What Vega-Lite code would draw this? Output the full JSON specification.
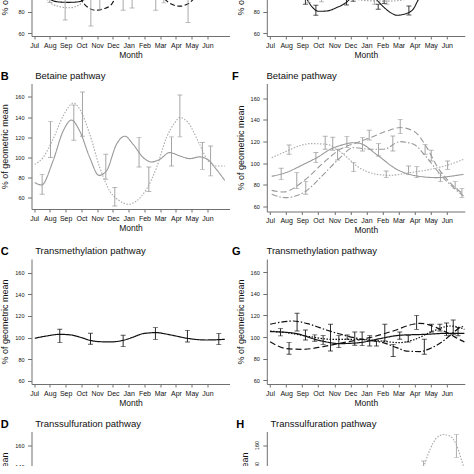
{
"$schema": "https://vega.github.io/schema/vega-lite/v6.json",
"padding": {"top": -91, "left": 0.5, "right": 0, "bottom": -114},
"config": {
 "font": "Liberation Sans",
 "view": {"stroke": null},
 "axis": {"grid": false, "domainColor": "#707070", "tickColor": "#707070", "labelColor": "#111", "titleColor": "#111", "titleFontWeight": "normal", "labelFlush": false, "labelOverlap": false},
 "axisX": {"labelFontSize": 7, "titleFontSize": 8.5, "tickSize": 3, "labelPadding": 2, "titlePadding": 2},
 "axisY": {"labelFontSize": 5.5, "titleFontSize": 9, "tickSize": 4, "labelPadding": 3.5, "titlePadding": 5, "values": [60,80,100,120,140,160]},
 "title": {"anchor": "start", "frame": "bounds", "fontSize": 11, "fontWeight": "bold", "subtitleFontSize": 9.5, "subtitleFontWeight": "normal", "subtitlePadding": -11, "offset": 2, "color": "#000", "subtitleColor": "#111"}
},
"datasets": {
 "curves": [
  {"p":"A","s":"a1","m":0.6,"v":100},{"p":"A","s":"a1","m":1.0,"v":91.5},{"p":"A","s":"a1","m":1.5,"v":89},{"p":"A","s":"a1","m":2.2,"v":88.5},{"p":"A","s":"a1","m":2.8,"v":89},{"p":"A","s":"a1","m":3.2,"v":91.5},{"p":"A","s":"a1","m":3.6,"v":100},{"p":"A","s":"a1","m":5,"v":110},{"p":"A","s":"a1","m":8,"v":106},{"p":"A","s":"a1","m":12.1,"v":102},
  {"p":"A","s":"a2","m":0.6,"v":96},{"p":"A","s":"a2","m":1.0,"v":88.5},{"p":"A","s":"a2","m":1.5,"v":85},{"p":"A","s":"a2","m":2.2,"v":83.5},{"p":"A","s":"a2","m":2.8,"v":85.5},{"p":"A","s":"a2","m":3.1,"v":89.5},{"p":"A","s":"a2","m":3.4,"v":96},{"p":"A","s":"a2","m":4.5,"v":108},{"p":"A","s":"a2","m":8,"v":104},{"p":"A","s":"a2","m":12.1,"v":100},
  {"p":"A","s":"a3","m":0,"v":110},{"p":"A","s":"a3","m":1.5,"v":108},{"p":"A","s":"a3","m":2.6,"v":100},{"p":"A","s":"a3","m":3.1,"v":88.5},{"p":"A","s":"a3","m":3.5,"v":83},{"p":"A","s":"a3","m":3.9,"v":81.2},{"p":"A","s":"a3","m":4.4,"v":82.5},{"p":"A","s":"a3","m":4.9,"v":86.5},{"p":"A","s":"a3","m":5.1,"v":91},{"p":"A","s":"a3","m":5.5,"v":100},{"p":"A","s":"a3","m":7,"v":104},{"p":"A","s":"a3","m":7.9,"v":99},{"p":"A","s":"a3","m":8.3,"v":91.3},{"p":"A","s":"a3","m":8.7,"v":87},{"p":"A","s":"a3","m":9.25,"v":85},{"p":"A","s":"a3","m":9.8,"v":87.5},{"p":"A","s":"a3","m":10.1,"v":91.3},{"p":"A","s":"a3","m":10.5,"v":100},{"p":"A","s":"a3","m":12.1,"v":105},
  {"p":"E","s":"e1","m":0,"v":110},{"p":"E","s":"e1","m":1.5,"v":105},{"p":"E","s":"e1","m":2.0,"v":97},{"p":"E","s":"e1","m":2.29,"v":91.3},{"p":"E","s":"e1","m":2.6,"v":84.5},{"p":"E","s":"e1","m":3.0,"v":80.3},{"p":"E","s":"e1","m":3.5,"v":80.5},{"p":"E","s":"e1","m":4.15,"v":83.7},{"p":"E","s":"e1","m":4.77,"v":88.8},{"p":"E","s":"e1","m":5.0,"v":92},{"p":"E","s":"e1","m":5.6,"v":100},{"p":"E","s":"e1","m":6.3,"v":96},{"p":"E","s":"e1","m":6.6,"v":91.3},{"p":"E","s":"e1","m":7.04,"v":84.6},{"p":"E","s":"e1","m":7.5,"v":79},{"p":"E","s":"e1","m":7.9,"v":76.6},{"p":"E","s":"e1","m":8.4,"v":77.8},{"p":"E","s":"e1","m":8.9,"v":82.1},{"p":"E","s":"e1","m":9.24,"v":91.3},{"p":"E","s":"e1","m":9.5,"v":97},{"p":"E","s":"e1","m":12.1,"v":110},
  {"p":"E","s":"e2","m":4.8,"v":100},{"p":"E","s":"e2","m":5.3,"v":92},{"p":"E","s":"e2","m":5.8,"v":90.3},{"p":"E","s":"e2","m":6.5,"v":89.8},{"p":"E","s":"e2","m":7.3,"v":89.6},{"p":"E","s":"e2","m":8.0,"v":90.2},{"p":"E","s":"e2","m":8.5,"v":92},{"p":"E","s":"e2","m":9.0,"v":100},
  {"p":"B","s":"b1","m":0.04,"v":74.9},{"p":"B","s":"b1","m":0.47,"v":72.5},{"p":"B","s":"b1","m":1.2,"v":96.4},{"p":"B","s":"b1","m":1.84,"v":126},{"p":"B","s":"b1","m":2.37,"v":137},{"p":"B","s":"b1","m":2.9,"v":126},{"p":"B","s":"b1","m":3.53,"v":99.8},{"p":"B","s":"b1","m":4.12,"v":82},{"p":"B","s":"b1","m":4.59,"v":86.4},{"p":"B","s":"b1","m":5.23,"v":113},{"p":"B","s":"b1","m":5.76,"v":121},{"p":"B","s":"b1","m":6.28,"v":113},{"p":"B","s":"b1","m":6.92,"v":99.8},{"p":"B","s":"b1","m":7.45,"v":95.4},{"p":"B","s":"b1","m":7.98,"v":98},{"p":"B","s":"b1","m":8.6,"v":104.7},{"p":"B","s":"b1","m":9.25,"v":101.4},{"p":"B","s":"b1","m":9.88,"v":98.7},{"p":"B","s":"b1","m":10.5,"v":100.4},{"p":"B","s":"b1","m":11.0,"v":98},{"p":"B","s":"b1","m":11.57,"v":88},{"p":"B","s":"b1","m":12.1,"v":77},
  {"p":"B","s":"b2","m":0.04,"v":93},{"p":"B","s":"b2","m":0.57,"v":99.8},{"p":"B","s":"b2","m":1.2,"v":118},{"p":"B","s":"b2","m":1.84,"v":141},{"p":"B","s":"b2","m":2.5,"v":154},{"p":"B","s":"b2","m":2.9,"v":147.8},{"p":"B","s":"b2","m":3.53,"v":123},{"p":"B","s":"b2","m":4.17,"v":89.8},{"p":"B","s":"b2","m":4.8,"v":66.6},{"p":"B","s":"b2","m":5.44,"v":56.6},{"p":"B","s":"b2","m":5.97,"v":53.3},{"p":"B","s":"b2","m":6.5,"v":56.6},{"p":"B","s":"b2","m":7.13,"v":68.2},{"p":"B","s":"b2","m":7.77,"v":89.8},{"p":"B","s":"b2","m":8.4,"v":119.6},{"p":"B","s":"b2","m":8.93,"v":134.5},{"p":"B","s":"b2","m":9.25,"v":139.5},{"p":"B","s":"b2","m":9.77,"v":134.5},{"p":"B","s":"b2","m":10.5,"v":113},{"p":"B","s":"b2","m":11.04,"v":96.4},{"p":"B","s":"b2","m":11.57,"v":91.4},{"p":"B","s":"b2","m":12.1,"v":91.4},
  {"p":"F","s":"f1","m":0.1,"v":88},{"p":"F","s":"f1","m":1.0,"v":91.5},{"p":"F","s":"f1","m":2.08,"v":99},{"p":"F","s":"f1","m":3.0,"v":106},{"p":"F","s":"f1","m":3.74,"v":112.9},{"p":"F","s":"f1","m":4.5,"v":117},{"p":"F","s":"f1","m":5.19,"v":119},{"p":"F","s":"f1","m":5.6,"v":118.4},{"p":"F","s":"f1","m":6.64,"v":108},{"p":"F","s":"f1","m":7.89,"v":94.4},{"p":"F","s":"f1","m":9.13,"v":88.3},{"p":"F","s":"f1","m":10.38,"v":86.8},{"p":"F","s":"f1","m":11.2,"v":88},{"p":"F","s":"f1","m":12.04,"v":89.8},
  {"p":"F","s":"f2","m":0.1,"v":105.2},{"p":"F","s":"f2","m":1.04,"v":111.3},{"p":"F","s":"f2","m":1.8,"v":116},{"p":"F","s":"f2","m":2.49,"v":118.2},{"p":"F","s":"f2","m":3.53,"v":117.5},{"p":"F","s":"f2","m":4.57,"v":108.3},{"p":"F","s":"f2","m":5.4,"v":97.5},{"p":"F","s":"f2","m":6.64,"v":89.8},{"p":"F","s":"f2","m":7.47,"v":88.9},{"p":"F","s":"f2","m":8.72,"v":91.4},{"p":"F","s":"f2","m":9.96,"v":94.4},{"p":"F","s":"f2","m":11.2,"v":99},{"p":"F","s":"f2","m":12.04,"v":103.7},
  {"p":"F","s":"f3","m":0.1,"v":75},{"p":"F","s":"f3","m":0.83,"v":73.5},{"p":"F","s":"f3","m":2.08,"v":83.6},{"p":"F","s":"f3","m":3.33,"v":100.6},{"p":"F","s":"f3","m":4.36,"v":112.9},{"p":"F","s":"f3","m":5.4,"v":119},{"p":"F","s":"f3","m":6.23,"v":123.7},{"p":"F","s":"f3","m":7.27,"v":129.8},{"p":"F","s":"f3","m":8.1,"v":133},{"p":"F","s":"f3","m":8.93,"v":129.8},{"p":"F","s":"f3","m":9.76,"v":114.5},{"p":"F","s":"f3","m":10.38,"v":97.5},{"p":"F","s":"f3","m":11.2,"v":82.2},{"p":"F","s":"f3","m":12.04,"v":71.4},
  {"p":"F","s":"f4","m":0.1,"v":71.4},{"p":"F","s":"f4","m":0.93,"v":68.3},{"p":"F","s":"f4","m":2.08,"v":72.9},{"p":"F","s":"f4","m":3.33,"v":89.8},{"p":"F","s":"f4","m":4.36,"v":105.2},{"p":"F","s":"f4","m":5.19,"v":114.5},{"p":"F","s":"f4","m":6.23,"v":113},{"p":"F","s":"f4","m":7.06,"v":113},{"p":"F","s":"f4","m":8.1,"v":120},{"p":"F","s":"f4","m":8.93,"v":117.5},{"p":"F","s":"f4","m":9.76,"v":105.2},{"p":"F","s":"f4","m":10.59,"v":89.8},{"p":"F","s":"f4","m":11.42,"v":77.5},{"p":"F","s":"f4","m":12.04,"v":69.8},
  {"p":"C","s":"c1","m":0.04,"v":99.4},{"p":"C","s":"c1","m":0.8,"v":101.5},{"p":"C","s":"c1","m":1.63,"v":103},{"p":"C","s":"c1","m":2.3,"v":102.5},{"p":"C","s":"c1","m":3.0,"v":100},{"p":"C","s":"c1","m":3.54,"v":97.5},{"p":"C","s":"c1","m":4.2,"v":96.2},{"p":"C","s":"c1","m":4.8,"v":96},{"p":"C","s":"c1","m":5.65,"v":97.5},{"p":"C","s":"c1","m":6.3,"v":100.5},{"p":"C","s":"c1","m":6.92,"v":103.7},{"p":"C","s":"c1","m":7.77,"v":104.6},{"p":"C","s":"c1","m":8.3,"v":103.5},{"p":"C","s":"c1","m":8.82,"v":102},{"p":"C","s":"c1","m":9.88,"v":99},{"p":"C","s":"c1","m":10.94,"v":97.8},{"p":"C","s":"c1","m":12.1,"v":98.4},
  {"p":"G","s":"g1","m":0.0,"v":105},{"p":"G","s":"g1","m":1.43,"v":103.7},{"p":"G","s":"g1","m":3.1,"v":96.7},{"p":"G","s":"g1","m":4.34,"v":93.9},{"p":"G","s":"g1","m":5.58,"v":94.8},{"p":"G","s":"g1","m":6.83,"v":98.5},{"p":"G","s":"g1","m":8.07,"v":101.6},{"p":"G","s":"g1","m":9.74,"v":102.5},{"p":"G","s":"g1","m":10.98,"v":103.4},{"p":"G","s":"g1","m":12.1,"v":103.4},
  {"p":"G","s":"g2","m":0.0,"v":105.5},{"p":"G","s":"g2","m":1.02,"v":104},{"p":"G","s":"g2","m":2.47,"v":100.3},{"p":"G","s":"g2","m":3.92,"v":97.8},{"p":"G","s":"g2","m":5.58,"v":97.8},{"p":"G","s":"g2","m":6.83,"v":96.3},{"p":"G","s":"g2","m":8.07,"v":94.8},{"p":"G","s":"g2","m":8.9,"v":97.2},{"p":"G","s":"g2","m":10.15,"v":105.5},{"p":"G","s":"g2","m":11.2,"v":110.2},{"p":"G","s":"g2","m":11.8,"v":108.8},{"p":"G","s":"g2","m":12.1,"v":107},
  {"p":"G","s":"g3","m":0.0,"v":95.7},{"p":"G","s":"g3","m":1.02,"v":89.2},{"p":"G","s":"g3","m":2.05,"v":88.6},{"p":"G","s":"g3","m":3.3,"v":91.1},{"p":"G","s":"g3","m":4.55,"v":94.8},{"p":"G","s":"g3","m":6.2,"v":99.4},{"p":"G","s":"g3","m":7.66,"v":105.6},{"p":"G","s":"g3","m":8.9,"v":111.8},{"p":"G","s":"g3","m":9.32,"v":112.7},{"p":"G","s":"g3","m":10.36,"v":108.7},{"p":"G","s":"g3","m":11.2,"v":102.5},{"p":"G","s":"g3","m":11.8,"v":97.6},{"p":"G","s":"g3","m":12.1,"v":95.5},
  {"p":"G","s":"g4","m":0.0,"v":111.8},{"p":"G","s":"g4","m":1.43,"v":114.8},{"p":"G","s":"g4","m":2.47,"v":111.8},{"p":"G","s":"g4","m":3.51,"v":106.5},{"p":"G","s":"g4","m":4.76,"v":101},{"p":"G","s":"g4","m":6.0,"v":97.2},{"p":"G","s":"g4","m":7.04,"v":94.8},{"p":"G","s":"g4","m":7.87,"v":90.2},{"p":"G","s":"g4","m":8.49,"v":87},{"p":"G","s":"g4","m":9.32,"v":86.5},{"p":"G","s":"g4","m":9.94,"v":89.2},{"p":"G","s":"g4","m":10.77,"v":96.3},{"p":"G","s":"g4","m":11.4,"v":104},{"p":"G","s":"g4","m":11.8,"v":108.7},{"p":"G","s":"g4","m":12.1,"v":110},
  {"p":"H","s":"h1","m":7.5,"v":95},{"p":"H","s":"h1","m":8.6,"v":105},{"p":"H","s":"h1","m":9.1,"v":120},{"p":"H","s":"h1","m":9.44,"v":133.7},{"p":"H","s":"h1","m":9.96,"v":155.9},{"p":"H","s":"h1","m":10.38,"v":167},{"p":"H","s":"h1","m":10.8,"v":170},{"p":"H","s":"h1","m":11.2,"v":168.6},{"p":"H","s":"h1","m":11.63,"v":159},{"p":"H","s":"h1","m":12.04,"v":140},{"p":"H","s":"h1","m":12.12,"v":137}
 ],
 "bars": [
  {"p":"A","s":"a2","m":1.0,"lo":88.3,"hi":110},{"p":"A","s":"a2","m":1.97,"lo":72.2,"hi":112},{"p":"A","s":"a2","m":3.6,"lo":66.7,"hi":115},{"p":"A","s":"a2","m":4.17,"lo":82,"hi":112},{"p":"A","s":"a2","m":5.65,"lo":81.2,"hi":110},{"p":"A","s":"a2","m":6.22,"lo":83.3,"hi":112},{"p":"A","s":"a2","m":7.72,"lo":81.2,"hi":108},{"p":"A","s":"a2","m":8.23,"lo":88,"hi":108},{"p":"A","s":"a2","m":9.77,"lo":69.9,"hi":112},
  {"p":"E","s":"e1","m":2.2,"lo":86.7,"hi":100},{"p":"E","s":"e1","m":2.85,"lo":76.6,"hi":85.8},{"p":"E","s":"e1","m":4.76,"lo":86.1,"hi":100},{"p":"E","s":"e1","m":5.17,"lo":89.5,"hi":100},{"p":"E","s":"e1","m":6.73,"lo":82.1,"hi":86.7},{"p":"E","s":"e1","m":7.1,"lo":87.4,"hi":100},{"p":"E","s":"e1","m":8.64,"lo":76.9,"hi":85.2},
  {"p":"E","s":"e2","m":2.4,"lo":88.5,"hi":100},{"p":"E","s":"e2","m":3.2,"lo":89,"hi":100},{"p":"E","s":"e2","m":6.5,"lo":86.7,"hi":91},{"p":"E","s":"e2","m":7.27,"lo":86.7,"hi":91},
  {"p":"B","s":"b1","m":0.51,"lo":63.3,"hi":83},{"p":"B","s":"b1","m":1.04,"lo":99.8,"hi":135.5},{"p":"B","s":"b1","m":2.52,"lo":117,"hi":152},{"p":"B","s":"b1","m":3.07,"lo":121,"hi":165},{"p":"B","s":"b1","m":4.55,"lo":78.2,"hi":103},{"p":"B","s":"b1","m":5.12,"lo":51.6,"hi":70},{"p":"B","s":"b1","m":6.66,"lo":90.4,"hi":119.6},{"p":"B","s":"b1","m":7.28,"lo":66,"hi":90.4},{"p":"B","s":"b1","m":8.72,"lo":91.4,"hi":120.3},{"p":"B","s":"b1","m":9.25,"lo":120.3,"hi":162},{"p":"B","s":"b1","m":10.68,"lo":88,"hi":114.7},{"p":"B","s":"b1","m":11.2,"lo":81.5,"hi":111.3},
  {"p":"F","s":"f1","m":0.69,"lo":85.2,"hi":95.4},{"p":"F","s":"f1","m":1.18,"lo":108.3,"hi":116.9},{"p":"F","s":"f1","m":1.66,"lo":76.6,"hi":91.4},{"p":"F","s":"f1","m":2.22,"lo":71.4,"hi":83.1},{"p":"F","s":"f1","m":2.85,"lo":100.6,"hi":110},{"p":"F","s":"f1","m":3.43,"lo":113,"hi":125},{"p":"F","s":"f1","m":3.9,"lo":112,"hi":124},{"p":"F","s":"f1","m":4.2,"lo":103,"hi":113},{"p":"F","s":"f1","m":4.78,"lo":114.5,"hi":124.6},{"p":"F","s":"f1","m":5.2,"lo":92.3,"hi":100.6},{"p":"F","s":"f1","m":5.75,"lo":111.3,"hi":123.7},{"p":"F","s":"f1","m":6.17,"lo":121.5,"hi":130.5},{"p":"F","s":"f1","m":6.75,"lo":106.7,"hi":118.2},{"p":"F","s":"f1","m":7.23,"lo":86.8,"hi":92.9},{"p":"F","s":"f1","m":7.64,"lo":111.3,"hi":125.2},{"p":"F","s":"f1","m":8.1,"lo":127.4,"hi":140.6},{"p":"F","s":"f1","m":8.62,"lo":89.8,"hi":97.5},{"p":"F","s":"f1","m":9.13,"lo":86.8,"hi":96.9},{"p":"F","s":"f1","m":9.65,"lo":108.3,"hi":117.5},{"p":"F","s":"f1","m":10.03,"lo":102.1,"hi":112},{"p":"F","s":"f1","m":10.6,"lo":83.1,"hi":90.8},{"p":"F","s":"f1","m":11.05,"lo":94.4,"hi":102.1},{"p":"F","s":"f1","m":11.52,"lo":76.6,"hi":83.1},{"p":"F","s":"f1","m":11.94,"lo":68.3,"hi":76.6},
  {"p":"C","s":"c1","m":1.63,"lo":95.4,"hi":107.7},{"p":"C","s":"c1","m":3.58,"lo":93.8,"hi":104},{"p":"C","s":"c1","m":5.65,"lo":91.7,"hi":102.1},{"p":"C","s":"c1","m":7.7,"lo":98.4,"hi":109.2},{"p":"C","s":"c1","m":9.73,"lo":96,"hi":106.7},{"p":"C","s":"c1","m":11.72,"lo":93.5,"hi":103.7},
  {"p":"G","s":"g1","m":0.65,"lo":101,"hi":107.8},{"p":"G","s":"g1","m":1.18,"lo":84,"hi":94.8},{"p":"G","s":"g1","m":1.68,"lo":105.6,"hi":122},{"p":"G","s":"g1","m":2.2,"lo":97.2,"hi":106.5},{"p":"G","s":"g1","m":2.78,"lo":96,"hi":102},{"p":"G","s":"g1","m":3.3,"lo":93.2,"hi":101.3},{"p":"G","s":"g1","m":3.76,"lo":87,"hi":111.8},{"p":"G","s":"g1","m":4.28,"lo":90.2,"hi":101.3},{"p":"G","s":"g1","m":4.8,"lo":97.9,"hi":101.9},{"p":"G","s":"g1","m":5.27,"lo":92.3,"hi":104.6},{"p":"G","s":"g1","m":5.73,"lo":92,"hi":104.6},{"p":"G","s":"g1","m":6.2,"lo":91.7,"hi":101.3},{"p":"G","s":"g1","m":6.62,"lo":91.7,"hi":96.3},{"p":"G","s":"g1","m":7.14,"lo":96.3,"hi":111.8},{"p":"G","s":"g1","m":7.66,"lo":81.9,"hi":93.2},{"p":"G","s":"g1","m":8.07,"lo":97.9,"hi":104.6},{"p":"G","s":"g1","m":8.6,"lo":95.4,"hi":101.3},{"p":"G","s":"g1","m":9.12,"lo":107.1,"hi":120},{"p":"G","s":"g1","m":9.6,"lo":84,"hi":97.9},{"p":"G","s":"g1","m":10.05,"lo":104.6,"hi":111.8},{"p":"G","s":"g1","m":10.57,"lo":105.6,"hi":111.8},{"p":"G","s":"g1","m":10.98,"lo":101.3,"hi":113},{"p":"G","s":"g1","m":11.4,"lo":102.5,"hi":115.7},{"p":"G","s":"g1","m":11.7,"lo":101.2,"hi":108.8},
  {"p":"H","s":"h1","m":9.55,"lo":127,"hi":144.8},{"p":"H","s":"h1","m":11.6,"lo":148,"hi":170.2}
 ]
},
"columns": 2,
"spacing": {"row": 47.5, "column": 37.3},
"bounds": "flush",
"concat": [
  {"width": 198, "height": 127,
   "encoding": {"x": {"field": "m", "type": "quantitative", "title": "Month", "scale": {"domain": [-0.165, 12.4], "nice": false, "zero": false}, "axis": {"values": [0,1,2,3,4,5,6,7,8,9,10,11], "labelExpr": "['Jul','Aug','Sep','Oct','Nov','Dec','Jan','Feb','Mar','Apr','May','Jun'][datum.value]"}}},
   "layer": [
    {"data": {"name": "curves"}, "transform": [{"filter": "datum.p == 'A'"}], "mark": {"type": "line", "interpolate": "monotone", "clip": true, "strokeWidth": 1.1},
     "encoding": {"y": {"field": "v", "type": "quantitative", "title": "% of geometric mean", "scale": {"domain": [57.5, 174.5], "nice": false, "zero": false}, "axis": {"values": [60,80,100,120,140,160]}},
      "color": {"field": "s", "type": "nominal", "legend": null, "scale": {"domain": ["a1","a2","a3","e1","e2","b1","b2","c1","f1","f2","f3","f4","g1","g2","g3","g4","h1"], "range": ["#111111","#a0a0a0","#111111","#1a1a1a","#a0a0a0","#9a9a9a","#aaaaaa","#111111","#999999","#aaaaaa","#9a9a9a","#9a9a9a","#111111","#111111","#111111","#111111","#a5a5a5"]}},
      "strokeDash": {"field": "s", "type": "nominal", "legend": null, "scale": {"domain": ["a1","a2","a3","e1","e2","b1","b2","c1","f1","f2","f3","f4","g1","g2","g3","g4","h1"], "range": [[1,0],[1.5,1.5],[5,2.5],[1,0],[1.5,1.5],[1,0],[1.5,1.5],[1,0],[1,0],[1.5,1.5],[6,3],[6,2,1.5,2],[1,0],[1.5,1.5],[6,3],[6,2,1.5,2],[1.5,1.5]]}}}},
    {"data": {"name": "bars"}, "transform": [{"filter": "datum.p == 'A'"}], "mark": {"type": "rule", "clip": true, "strokeWidth": 0.9},
     "encoding": {"y": {"field": "lo", "type": "quantitative", "title": "% of geometric mean", "scale": {"domain": [57.5, 174.5], "nice": false, "zero": false}, "axis": {"values": [60,80,100,120,140,160]}}, "y2": {"field": "hi"}, "color": {"field": "s", "type": "nominal", "legend": null}}},
    {"data": {"name": "bars"}, "transform": [{"filter": "datum.p == 'A'"}], "mark": {"type": "tick", "orient": "horizontal", "size": 5, "thickness": 0.9, "clip": true},
     "encoding": {"y": {"field": "lo", "type": "quantitative", "title": "% of geometric mean", "scale": {"domain": [57.5, 174.5], "nice": false, "zero": false}, "axis": {"values": [60,80,100,120,140,160]}}, "color": {"field": "s", "type": "nominal", "legend": null}}},
    {"data": {"name": "bars"}, "transform": [{"filter": "datum.p == 'A'"}], "mark": {"type": "tick", "orient": "horizontal", "size": 5, "thickness": 0.9, "clip": true},
     "encoding": {"y": {"field": "hi", "type": "quantitative", "title": "% of geometric mean", "scale": {"domain": [57.5, 174.5], "nice": false, "zero": false}, "axis": {"values": [60,80,100,120,140,160]}}, "color": {"field": "s", "type": "nominal", "legend": null}}}
   ]},
  {"width": 198, "height": 127,
   "encoding": {"x": {"field": "m", "type": "quantitative", "title": "Month", "scale": {"domain": [-0.205, 12.12], "nice": false, "zero": false}, "axis": {"values": [0,1,2,3,4,5,6,7,8,9,10,11], "labelExpr": "['Jul','Aug','Sep','Oct','Nov','Dec','Jan','Feb','Mar','Apr','May','Jun'][datum.value]"}}},
   "layer": [
    {"data": {"name": "curves"}, "transform": [{"filter": "datum.p == 'E'"}], "mark": {"type": "line", "interpolate": "monotone", "clip": true, "strokeWidth": 1.1},
     "encoding": {"y": {"field": "v", "type": "quantitative", "title": "% of geometric mean", "scale": {"domain": [57.5, 174.5], "nice": false, "zero": false}, "axis": {"values": [60,80,100,120,140,160]}},
      "color": {"field": "s", "type": "nominal", "legend": null, "scale": {"domain": ["a1","a2","a3","e1","e2","b1","b2","c1","f1","f2","f3","f4","g1","g2","g3","g4","h1"], "range": ["#111111","#a0a0a0","#111111","#1a1a1a","#a0a0a0","#9a9a9a","#aaaaaa","#111111","#999999","#aaaaaa","#9a9a9a","#9a9a9a","#111111","#111111","#111111","#111111","#a5a5a5"]}},
      "strokeDash": {"field": "s", "type": "nominal", "legend": null, "scale": {"domain": ["a1","a2","a3","e1","e2","b1","b2","c1","f1","f2","f3","f4","g1","g2","g3","g4","h1"], "range": [[1,0],[1.5,1.5],[5,2.5],[1,0],[1.5,1.5],[1,0],[1.5,1.5],[1,0],[1,0],[1.5,1.5],[6,3],[6,2,1.5,2],[1,0],[1.5,1.5],[6,3],[6,2,1.5,2],[1.5,1.5]]}}}},
    {"data": {"name": "bars"}, "transform": [{"filter": "datum.p == 'E'"}], "mark": {"type": "rule", "clip": true, "strokeWidth": 0.9},
     "encoding": {"y": {"field": "lo", "type": "quantitative", "title": "% of geometric mean", "scale": {"domain": [57.5, 174.5], "nice": false, "zero": false}, "axis": {"values": [60,80,100,120,140,160]}}, "y2": {"field": "hi"}, "color": {"field": "s", "type": "nominal", "legend": null}}},
    {"data": {"name": "bars"}, "transform": [{"filter": "datum.p == 'E'"}], "mark": {"type": "tick", "orient": "horizontal", "size": 5, "thickness": 0.9, "clip": true},
     "encoding": {"y": {"field": "lo", "type": "quantitative", "title": "% of geometric mean", "scale": {"domain": [57.5, 174.5], "nice": false, "zero": false}, "axis": {"values": [60,80,100,120,140,160]}}, "color": {"field": "s", "type": "nominal", "legend": null}}},
    {"data": {"name": "bars"}, "transform": [{"filter": "datum.p == 'E'"}], "mark": {"type": "tick", "orient": "horizontal", "size": 5, "thickness": 0.9, "clip": true},
     "encoding": {"y": {"field": "hi", "type": "quantitative", "title": "% of geometric mean", "scale": {"domain": [57.5, 174.5], "nice": false, "zero": false}, "axis": {"values": [60,80,100,120,140,160]}}, "color": {"field": "s", "type": "nominal", "legend": null}}}
   ]},
  {"width": 198, "height": 125.5,
   "title": {"text": "B", "subtitle": "\u200b\u00a0\u00a0\u00a0\u00a0\u00a0\u00a0\u00a0\u00a0\u00a0\u00a0\u00a0\u00a0\u00a0Betaine pathway"},
   "encoding": {"x": {"field": "m", "type": "quantitative", "title": "Month", "scale": {"domain": [-0.165, 12.4], "nice": false, "zero": false}, "axis": {"values": [0,1,2,3,4,5,6,7,8,9,10,11], "labelExpr": "['Jul','Aug','Sep','Oct','Nov','Dec','Jan','Feb','Mar','Apr','May','Jun'][datum.value]"}}},
   "layer": [
    {"data": {"name": "curves"}, "transform": [{"filter": "datum.p == 'B'"}], "mark": {"type": "line", "interpolate": "monotone", "clip": true, "strokeWidth": 1.1},
     "encoding": {"y": {"field": "v", "type": "quantitative", "title": "% of geometric mean", "scale": {"domain": [48.6, 173.4], "nice": false, "zero": false}, "axis": {"values": [60,80,100,120,140,160]}},
      "color": {"field": "s", "type": "nominal", "legend": null, "scale": {"domain": ["a1","a2","a3","e1","e2","b1","b2","c1","f1","f2","f3","f4","g1","g2","g3","g4","h1"], "range": ["#111111","#a0a0a0","#111111","#1a1a1a","#a0a0a0","#9a9a9a","#aaaaaa","#111111","#999999","#aaaaaa","#9a9a9a","#9a9a9a","#111111","#111111","#111111","#111111","#a5a5a5"]}},
      "strokeDash": {"field": "s", "type": "nominal", "legend": null, "scale": {"domain": ["a1","a2","a3","e1","e2","b1","b2","c1","f1","f2","f3","f4","g1","g2","g3","g4","h1"], "range": [[1,0],[1.5,1.5],[5,2.5],[1,0],[1.5,1.5],[1,0],[1.5,1.5],[1,0],[1,0],[1.5,1.5],[6,3],[6,2,1.5,2],[1,0],[1.5,1.5],[6,3],[6,2,1.5,2],[1.5,1.5]]}}}},
    {"data": {"name": "bars"}, "transform": [{"filter": "datum.p == 'B'"}], "mark": {"type": "rule", "clip": true, "strokeWidth": 0.9},
     "encoding": {"y": {"field": "lo", "type": "quantitative", "title": "% of geometric mean", "scale": {"domain": [48.6, 173.4], "nice": false, "zero": false}, "axis": {"values": [60,80,100,120,140,160]}}, "y2": {"field": "hi"}, "color": {"field": "s", "type": "nominal", "legend": null}}},
    {"data": {"name": "bars"}, "transform": [{"filter": "datum.p == 'B'"}], "mark": {"type": "tick", "orient": "horizontal", "size": 5, "thickness": 0.9, "clip": true},
     "encoding": {"y": {"field": "lo", "type": "quantitative", "title": "% of geometric mean", "scale": {"domain": [48.6, 173.4], "nice": false, "zero": false}, "axis": {"values": [60,80,100,120,140,160]}}, "color": {"field": "s", "type": "nominal", "legend": null}}},
    {"data": {"name": "bars"}, "transform": [{"filter": "datum.p == 'B'"}], "mark": {"type": "tick", "orient": "horizontal", "size": 5, "thickness": 0.9, "clip": true},
     "encoding": {"y": {"field": "hi", "type": "quantitative", "title": "% of geometric mean", "scale": {"domain": [48.6, 173.4], "nice": false, "zero": false}, "axis": {"values": [60,80,100,120,140,160]}}, "color": {"field": "s", "type": "nominal", "legend": null}}}
   ]},
  {"width": 198, "height": 128,
   "title": {"text": "F", "dx": -4, "subtitle": "\u200b\u00a0\u00a0\u00a0\u00a0\u00a0\u00a0\u00a0\u00a0\u00a0\u00a0\u00a0\u00a0\u00a0Betaine pathway"},
   "encoding": {"x": {"field": "m", "type": "quantitative", "title": "Month", "scale": {"domain": [-0.205, 12.12], "nice": false, "zero": false}, "axis": {"values": [0,1,2,3,4,5,6,7,8,9,10,11], "labelExpr": "['Jul','Aug','Sep','Oct','Nov','Dec','Jan','Feb','Mar','Apr','May','Jun'][datum.value]"}}},
   "layer": [
    {"data": {"name": "curves"}, "transform": [{"filter": "datum.p == 'F'"}], "mark": {"type": "line", "interpolate": "monotone", "clip": true, "strokeWidth": 1.1},
     "encoding": {"y": {"field": "v", "type": "quantitative", "title": "% of geometric mean", "scale": {"domain": [55.5, 173.7], "nice": false, "zero": false}, "axis": {"values": [60,80,100,120,140,160]}},
      "color": {"field": "s", "type": "nominal", "legend": null, "scale": {"domain": ["a1","a2","a3","e1","e2","b1","b2","c1","f1","f2","f3","f4","g1","g2","g3","g4","h1"], "range": ["#111111","#a0a0a0","#111111","#1a1a1a","#a0a0a0","#9a9a9a","#aaaaaa","#111111","#999999","#aaaaaa","#9a9a9a","#9a9a9a","#111111","#111111","#111111","#111111","#a5a5a5"]}},
      "strokeDash": {"field": "s", "type": "nominal", "legend": null, "scale": {"domain": ["a1","a2","a3","e1","e2","b1","b2","c1","f1","f2","f3","f4","g1","g2","g3","g4","h1"], "range": [[1,0],[1.5,1.5],[5,2.5],[1,0],[1.5,1.5],[1,0],[1.5,1.5],[1,0],[1,0],[1.5,1.5],[6,3],[6,2,1.5,2],[1,0],[1.5,1.5],[6,3],[6,2,1.5,2],[1.5,1.5]]}}}},
    {"data": {"name": "bars"}, "transform": [{"filter": "datum.p == 'F'"}], "mark": {"type": "rule", "clip": true, "strokeWidth": 0.9},
     "encoding": {"y": {"field": "lo", "type": "quantitative", "title": "% of geometric mean", "scale": {"domain": [55.5, 173.7], "nice": false, "zero": false}, "axis": {"values": [60,80,100,120,140,160]}}, "y2": {"field": "hi"}, "color": {"field": "s", "type": "nominal", "legend": null}}},
    {"data": {"name": "bars"}, "transform": [{"filter": "datum.p == 'F'"}], "mark": {"type": "tick", "orient": "horizontal", "size": 5, "thickness": 0.9, "clip": true},
     "encoding": {"y": {"field": "lo", "type": "quantitative", "title": "% of geometric mean", "scale": {"domain": [55.5, 173.7], "nice": false, "zero": false}, "axis": {"values": [60,80,100,120,140,160]}}, "color": {"field": "s", "type": "nominal", "legend": null}}},
    {"data": {"name": "bars"}, "transform": [{"filter": "datum.p == 'F'"}], "mark": {"type": "tick", "orient": "horizontal", "size": 5, "thickness": 0.9, "clip": true},
     "encoding": {"y": {"field": "hi", "type": "quantitative", "title": "% of geometric mean", "scale": {"domain": [55.5, 173.7], "nice": false, "zero": false}, "axis": {"values": [60,80,100,120,140,160]}}, "color": {"field": "s", "type": "nominal", "legend": null}}}
   ]},
  {"width": 198, "height": 125,
   "title": {"text": "C", "subtitle": "\u200b\u00a0\u00a0\u00a0\u00a0\u00a0\u00a0\u00a0\u00a0\u00a0\u00a0\u00a0\u00a0\u00a0Transmethylation pathway"},
   "encoding": {"x": {"field": "m", "type": "quantitative", "title": "Month", "scale": {"domain": [-0.165, 12.4], "nice": false, "zero": false}, "axis": {"values": [0,1,2,3,4,5,6,7,8,9,10,11], "labelExpr": "['Jul','Aug','Sep','Oct','Nov','Dec','Jan','Feb','Mar','Apr','May','Jun'][datum.value]"}}},
   "layer": [
    {"data": {"name": "curves"}, "transform": [{"filter": "datum.p == 'C'"}], "mark": {"type": "line", "interpolate": "monotone", "clip": true, "strokeWidth": 1.2},
     "encoding": {"y": {"field": "v", "type": "quantitative", "title": "% of geometric mean", "scale": {"domain": [57.2, 172.5], "nice": false, "zero": false}, "axis": {"values": [60,80,100,120,140,160]}},
      "color": {"field": "s", "type": "nominal", "legend": null, "scale": {"domain": ["a1","a2","a3","e1","e2","b1","b2","c1","f1","f2","f3","f4","g1","g2","g3","g4","h1"], "range": ["#111111","#a0a0a0","#111111","#1a1a1a","#a0a0a0","#9a9a9a","#aaaaaa","#111111","#999999","#aaaaaa","#9a9a9a","#9a9a9a","#111111","#111111","#111111","#111111","#a5a5a5"]}},
      "strokeDash": {"field": "s", "type": "nominal", "legend": null, "scale": {"domain": ["a1","a2","a3","e1","e2","b1","b2","c1","f1","f2","f3","f4","g1","g2","g3","g4","h1"], "range": [[1,0],[1.5,1.5],[5,2.5],[1,0],[1.5,1.5],[1,0],[1.5,1.5],[1,0],[1,0],[1.5,1.5],[6,3],[6,2,1.5,2],[1,0],[1.5,1.5],[6,3],[6,2,1.5,2],[1.5,1.5]]}}}},
    {"data": {"name": "bars"}, "transform": [{"filter": "datum.p == 'C'"}], "mark": {"type": "rule", "clip": true, "strokeWidth": 0.9},
     "encoding": {"y": {"field": "lo", "type": "quantitative", "title": "% of geometric mean", "scale": {"domain": [57.2, 172.5], "nice": false, "zero": false}, "axis": {"values": [60,80,100,120,140,160]}}, "y2": {"field": "hi"}, "color": {"field": "s", "type": "nominal", "legend": null}}},
    {"data": {"name": "bars"}, "transform": [{"filter": "datum.p == 'C'"}], "mark": {"type": "tick", "orient": "horizontal", "size": 5, "thickness": 0.9, "clip": true},
     "encoding": {"y": {"field": "lo", "type": "quantitative", "title": "% of geometric mean", "scale": {"domain": [57.2, 172.5], "nice": false, "zero": false}, "axis": {"values": [60,80,100,120,140,160]}}, "color": {"field": "s", "type": "nominal", "legend": null}}},
    {"data": {"name": "bars"}, "transform": [{"filter": "datum.p == 'C'"}], "mark": {"type": "tick", "orient": "horizontal", "size": 5, "thickness": 0.9, "clip": true},
     "encoding": {"y": {"field": "hi", "type": "quantitative", "title": "% of geometric mean", "scale": {"domain": [57.2, 172.5], "nice": false, "zero": false}, "axis": {"values": [60,80,100,120,140,160]}}, "color": {"field": "s", "type": "nominal", "legend": null}}}
   ]},
  {"width": 198, "height": 125,
   "title": {"text": "G", "dx": -4, "subtitle": "\u200b\u00a0\u00a0\u00a0\u00a0\u00a0\u00a0\u00a0\u00a0\u00a0\u00a0\u00a0\u00a0\u00a0Transmethylation pathway"},
   "encoding": {"x": {"field": "m", "type": "quantitative", "title": "Month", "scale": {"domain": [-0.205, 12.12], "nice": false, "zero": false}, "axis": {"values": [0,1,2,3,4,5,6,7,8,9,10,11], "labelExpr": "['Jul','Aug','Sep','Oct','Nov','Dec','Jan','Feb','Mar','Apr','May','Jun'][datum.value]"}}},
   "layer": [
    {"data": {"name": "curves"}, "transform": [{"filter": "datum.p == 'G'"}], "mark": {"type": "line", "interpolate": "monotone", "clip": true, "strokeWidth": 1.2},
     "encoding": {"y": {"field": "v", "type": "quantitative", "title": "% of geometric mean", "scale": {"domain": [56.5, 172.2], "nice": false, "zero": false}, "axis": {"values": [60,80,100,120,140,160]}},
      "color": {"field": "s", "type": "nominal", "legend": null, "scale": {"domain": ["a1","a2","a3","e1","e2","b1","b2","c1","f1","f2","f3","f4","g1","g2","g3","g4","h1"], "range": ["#111111","#a0a0a0","#111111","#1a1a1a","#a0a0a0","#9a9a9a","#aaaaaa","#111111","#999999","#aaaaaa","#9a9a9a","#9a9a9a","#111111","#111111","#111111","#111111","#a5a5a5"]}},
      "strokeDash": {"field": "s", "type": "nominal", "legend": null, "scale": {"domain": ["a1","a2","a3","e1","e2","b1","b2","c1","f1","f2","f3","f4","g1","g2","g3","g4","h1"], "range": [[1,0],[1.5,1.5],[5,2.5],[1,0],[1.5,1.5],[1,0],[1.5,1.5],[1,0],[1,0],[1.5,1.5],[6,3],[6,2,1.5,2],[1,0],[1.5,1.5],[6,3],[6,2,1.5,2],[1.5,1.5]]}}}},
    {"data": {"name": "bars"}, "transform": [{"filter": "datum.p == 'G'"}], "mark": {"type": "rule", "clip": true, "strokeWidth": 0.9},
     "encoding": {"y": {"field": "lo", "type": "quantitative", "title": "% of geometric mean", "scale": {"domain": [56.5, 172.2], "nice": false, "zero": false}, "axis": {"values": [60,80,100,120,140,160]}}, "y2": {"field": "hi"}, "color": {"field": "s", "type": "nominal", "legend": null}}},
    {"data": {"name": "bars"}, "transform": [{"filter": "datum.p == 'G'"}], "mark": {"type": "tick", "orient": "horizontal", "size": 5, "thickness": 0.9, "clip": true},
     "encoding": {"y": {"field": "lo", "type": "quantitative", "title": "% of geometric mean", "scale": {"domain": [56.5, 172.2], "nice": false, "zero": false}, "axis": {"values": [60,80,100,120,140,160]}}, "color": {"field": "s", "type": "nominal", "legend": null}}},
    {"data": {"name": "bars"}, "transform": [{"filter": "datum.p == 'G'"}], "mark": {"type": "tick", "orient": "horizontal", "size": 5, "thickness": 0.9, "clip": true},
     "encoding": {"y": {"field": "hi", "type": "quantitative", "title": "% of geometric mean", "scale": {"domain": [56.5, 172.2], "nice": false, "zero": false}, "axis": {"values": [60,80,100,120,140,160]}}, "color": {"field": "s", "type": "nominal", "legend": null}}}
   ]},
  {"width": 198, "height": 126,
   "title": {"text": "D", "subtitle": "\u200b\u00a0\u00a0\u00a0\u00a0\u00a0\u00a0\u00a0\u00a0\u00a0\u00a0\u00a0\u00a0\u00a0Transsulfuration pathway"},
   "encoding": {"x": {"field": "m", "type": "quantitative", "title": "Month", "scale": {"domain": [-0.165, 12.4], "nice": false, "zero": false}, "axis": {"values": [0,1,2,3,4,5,6,7,8,9,10,11], "labelExpr": "['Jul','Aug','Sep','Oct','Nov','Dec','Jan','Feb','Mar','Apr','May','Jun'][datum.value]"}}},
   "layer": [
    {"data": {"name": "curves"}, "transform": [{"filter": "datum.p == 'D'"}], "mark": {"type": "line", "interpolate": "monotone", "clip": true, "strokeWidth": 1.1},
     "encoding": {"y": {"field": "v", "type": "quantitative", "title": "% of geometric mean", "scale": {"domain": [52.9, 172.9], "nice": false, "zero": false}, "axis": {"values": [60,80,100,120,140,160]}},
      "color": {"field": "s", "type": "nominal", "legend": null, "scale": {"domain": ["a1","a2","a3","e1","e2","b1","b2","c1","f1","f2","f3","f4","g1","g2","g3","g4","h1"], "range": ["#111111","#a0a0a0","#111111","#1a1a1a","#a0a0a0","#9a9a9a","#aaaaaa","#111111","#999999","#aaaaaa","#9a9a9a","#9a9a9a","#111111","#111111","#111111","#111111","#a5a5a5"]}},
      "strokeDash": {"field": "s", "type": "nominal", "legend": null, "scale": {"domain": ["a1","a2","a3","e1","e2","b1","b2","c1","f1","f2","f3","f4","g1","g2","g3","g4","h1"], "range": [[1,0],[1.5,1.5],[5,2.5],[1,0],[1.5,1.5],[1,0],[1.5,1.5],[1,0],[1,0],[1.5,1.5],[6,3],[6,2,1.5,2],[1,0],[1.5,1.5],[6,3],[6,2,1.5,2],[1.5,1.5]]}}}}
   ]},
  {"width": 198, "height": 126,
   "title": {"text": "H", "dx": -4, "subtitle": "\u200b\u00a0\u00a0\u00a0\u00a0\u00a0\u00a0\u00a0\u00a0\u00a0\u00a0\u00a0\u00a0\u00a0Transsulfuration pathway"},
   "encoding": {"x": {"field": "m", "type": "quantitative", "title": "Month", "scale": {"domain": [-0.205, 12.12], "nice": false, "zero": false}, "axis": {"values": [0,1,2,3,4,5,6,7,8,9,10,11], "labelExpr": "['Jul','Aug','Sep','Oct','Nov','Dec','Jan','Feb','Mar','Apr','May','Jun'][datum.value]"}}},
   "layer": [
    {"data": {"name": "curves"}, "transform": [{"filter": "datum.p == 'H'"}], "mark": {"type": "line", "interpolate": "monotone", "clip": true, "strokeWidth": 1.1},
     "encoding": {"y": {"field": "v", "type": "quantitative", "title": "% of geometric mean", "scale": {"domain": [52.9, 172.9], "nice": false, "zero": false}, "axis": {"values": [60,80,100,120,140,160], "labelAngle": -90}},
      "color": {"field": "s", "type": "nominal", "legend": null, "scale": {"domain": ["a1","a2","a3","e1","e2","b1","b2","c1","f1","f2","f3","f4","g1","g2","g3","g4","h1"], "range": ["#111111","#a0a0a0","#111111","#1a1a1a","#a0a0a0","#9a9a9a","#aaaaaa","#111111","#999999","#aaaaaa","#9a9a9a","#9a9a9a","#111111","#111111","#111111","#111111","#a5a5a5"]}},
      "strokeDash": {"field": "s", "type": "nominal", "legend": null, "scale": {"domain": ["a1","a2","a3","e1","e2","b1","b2","c1","f1","f2","f3","f4","g1","g2","g3","g4","h1"], "range": [[1,0],[1.5,1.5],[5,2.5],[1,0],[1.5,1.5],[1,0],[1.5,1.5],[1,0],[1,0],[1.5,1.5],[6,3],[6,2,1.5,2],[1,0],[1.5,1.5],[6,3],[6,2,1.5,2],[1.5,1.5]]}}}},
    {"data": {"name": "bars"}, "transform": [{"filter": "datum.p == 'H'"}], "mark": {"type": "rule", "clip": true, "strokeWidth": 0.9},
     "encoding": {"y": {"field": "lo", "type": "quantitative", "title": "% of geometric mean", "scale": {"domain": [52.9, 172.9], "nice": false, "zero": false}, "axis": {"values": [60,80,100,120,140,160], "labelAngle": -90}}, "y2": {"field": "hi"}, "color": {"field": "s", "type": "nominal", "legend": null}}},
    {"data": {"name": "bars"}, "transform": [{"filter": "datum.p == 'H'"}], "mark": {"type": "tick", "orient": "horizontal", "size": 5, "thickness": 0.9, "clip": true},
     "encoding": {"y": {"field": "lo", "type": "quantitative", "title": "% of geometric mean", "scale": {"domain": [52.9, 172.9], "nice": false, "zero": false}, "axis": {"values": [60,80,100,120,140,160], "labelAngle": -90}}, "color": {"field": "s", "type": "nominal", "legend": null}}},
    {"data": {"name": "bars"}, "transform": [{"filter": "datum.p == 'H'"}], "mark": {"type": "tick", "orient": "horizontal", "size": 5, "thickness": 0.9, "clip": true},
     "encoding": {"y": {"field": "hi", "type": "quantitative", "title": "% of geometric mean", "scale": {"domain": [52.9, 172.9], "nice": false, "zero": false}, "axis": {"values": [60,80,100,120,140,160], "labelAngle": -90}}, "color": {"field": "s", "type": "nominal", "legend": null}}}
   ]}
]
}
